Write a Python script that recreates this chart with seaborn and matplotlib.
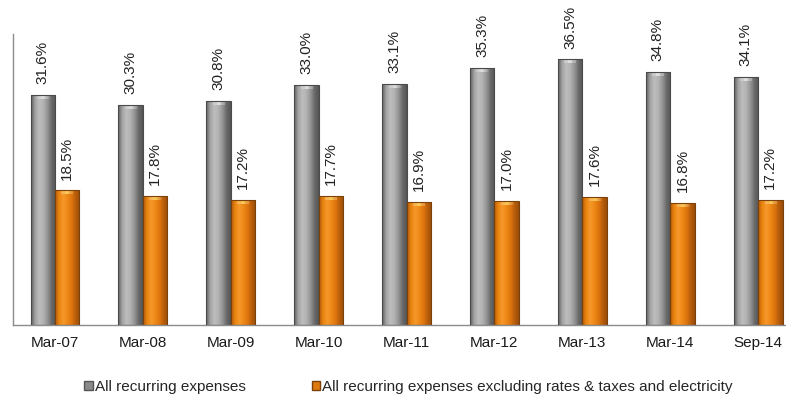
import numpy as np
import pandas as pd
import matplotlib
matplotlib.use("Agg")
import matplotlib.pyplot as plt
import seaborn as sns
from matplotlib.colors import LinearSegmentedColormap
from matplotlib.patches import Patch

categories = ["Mar-07", "Mar-08", "Mar-09", "Mar-10", "Mar-11", "Mar-12", "Mar-13", "Mar-14", "Sep-14"]
all_recurring = [31.6, 30.3, 30.8, 33.0, 33.1, 35.3, 36.5, 34.8, 34.1]
excl_rates = [18.5, 17.8, 17.2, 17.7, 16.9, 17.0, 17.6, 16.8, 17.2]
series_names = ["All recurring expenses",
                "All recurring expenses excluding rates & taxes and electricity"]

df = pd.DataFrame({
    "period": categories * 2,
    "value": all_recurring + excl_rates,
    "series": [series_names[0]] * len(categories) + [series_names[1]] * len(categories),
})

sns.set_style("white")
plt.rcParams["font.family"] = ["Liberation Sans", "DejaVu Sans"]

fig = plt.figure(figsize=(7.86, 3.97), dpi=100)
ax = fig.add_axes([13 / 786, 72 / 397, 789 / 786, 291 / 397])

palette = {series_names[0]: "#9a9a9a", series_names[1]: "#e8800f"}
sns.barplot(data=df, x="period", y="value", hue="series", palette=palette,
            width=0.557, ax=ax, legend=False, saturation=1)

gray_cmap = LinearSegmentedColormap.from_list(
    "g", ["#606060", "#a4a4a4", "#bdbdbd", "#b2b2b2", "#949494", "#6a6a6a", "#555555"])
orange_cmap = LinearSegmentedColormap.from_list(
    "o", ["#b85c08", "#ec8612", "#f5982a", "#ee8816", "#de760e", "#b85e0a", "#9a4c08"])

grad = np.linspace(0, 1, 64).reshape(1, -1)
n = len(categories)
for i, p in enumerate(ax.patches[:2 * n]):
    x0, y0 = p.get_x(), p.get_y()
    w, h = p.get_width(), p.get_height()
    cmap = gray_cmap if i < n else orange_cmap
    im = ax.imshow(grad, cmap=cmap, aspect="auto",
                   extent=[x0, x0 + w, y0, y0 + h], zorder=2)
    im.set_clip_path(p)
    hl = ax.imshow(np.array([[0.0, 0.5, 1.0, 0.5, 0.0]]),
                   cmap=LinearSegmentedColormap.from_list(
                       "h", [(1, 1, 1, 0), (1, 1, 1, 0.55) if i < n else (1, 0.95, 0.5, 0.6)]),
                   aspect="auto", extent=[x0 + w * 0.1, x0 + w * 0.9, y0 + h - 0.55, y0 + h - 0.15],
                   zorder=2.5)
    hl.set_clip_path(p)
    p.set_facecolor("none")
    p.set_edgecolor("#4a4a4a" if i < n else "#7a420a")
    p.set_linewidth(0.8)
    p.set_zorder(3)
    cx = x0 + w / 2
    ax.text(cx, y0 + h + 1.5, f"{h:.1f}%", rotation=90, ha="center", va="bottom",
            fontsize=11, color="#222222")

ax.set_xlim(-0.478, 8.5)
ax.set_ylim(0, 40)
ax.set_xlabel("")
ax.set_ylabel("")
ax.set_yticks([])
ax.tick_params(axis="x", length=0, labelsize=11, colors="#1a1a1a", pad=8)
for s in ["top", "right"]:
    ax.spines[s].set_visible(False)
for s in ["left", "bottom"]:
    ax.spines[s].set_color("#8c8c8c")
    ax.spines[s].set_linewidth(1.0)

handles = [Patch(facecolor="#8a8a8a", edgecolor="#555555"),
           Patch(facecolor="#e07a10", edgecolor="#7a420a")]
fig.legend(handles, series_names, loc="center", bbox_to_anchor=(0.52, 0.026),
           ncol=2, frameon=False, fontsize=11, handlelength=0.55, handleheight=0.55,
           handletextpad=0.15, columnspacing=4.3, borderpad=0, borderaxespad=0)

fig.savefig("out.png", dpi=100)
